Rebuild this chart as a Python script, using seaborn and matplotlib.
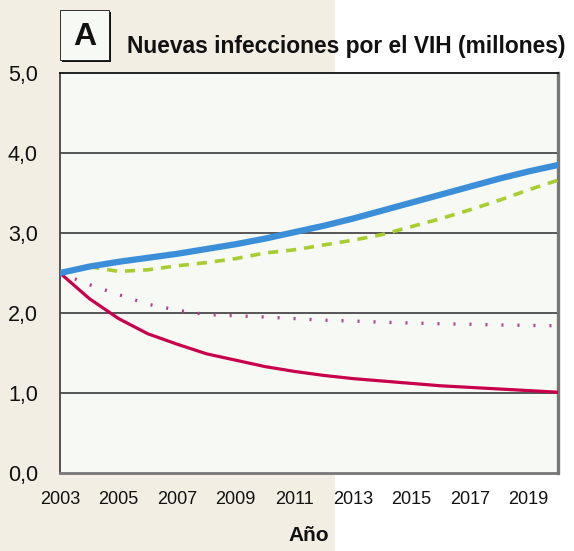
import numpy as np
import pandas as pd
import matplotlib
matplotlib.use("Agg")
import matplotlib.pyplot as plt
import seaborn as sns
from matplotlib.patches import Rectangle

# ---- data ----
years = list(range(2003, 2021))
blue_vals = [2.50, 2.58, 2.64, 2.69, 2.74, 2.80, 2.86, 2.93, 3.01, 3.09,
             3.18, 3.28, 3.38, 3.48, 3.58, 3.68, 3.77, 3.85]
green_years = list(range(2004, 2021))
green_vals = [2.58, 2.52, 2.54, 2.59, 2.63, 2.68, 2.75, 2.79, 2.85, 2.91,
              2.98, 3.08, 3.18, 3.29, 3.41, 3.54, 3.66]
dot_vals = [2.50, 2.355, 2.23, 2.11, 2.035, 1.98, 1.965, 1.95, 1.93, 1.91,
            1.90, 1.885, 1.875, 1.865, 1.86, 1.85, 1.845, 1.84]
red_vals = [2.50, 2.18, 1.93, 1.74, 1.61, 1.49, 1.41, 1.33, 1.27, 1.22,
            1.18, 1.15, 1.12, 1.09, 1.07, 1.05, 1.03, 1.01]
ytick_vals = [0, 1, 2, 3, 4, 5]
ytick_labels = ["0,0", "1,0", "2,0", "3,0", "4,0", "5,0"]
xtick_major = list(range(2003, 2020, 2))
title = "Nuevas infecciones por el VIH (millones)"
xlabel = "Año"
panel = "A"

sns.set_style("white")
plt.rcParams["font.family"] = ["Liberation Sans", "DejaVu Sans"]

W, H = 574, 551
fig = plt.figure(figsize=(W / 100, H / 100), dpi=100)
fig.patch.set_facecolor("white")
fig.patches.append(Rectangle((0, 0), 335 / W, 1, transform=fig.transFigure,
                             facecolor="#f2eee4", edgecolor="none", zorder=-10))

ax = fig.add_axes([60 / W, 1 - 473 / H, (558 - 60) / W, (473 - 73) / H])
ax.set_zorder(5)
ax.set_facecolor("#f7f9f4")

df_main = pd.DataFrame({"year": years, "blue": blue_vals, "dot": dot_vals, "red": red_vals})
df_green = pd.DataFrame({"year": green_years, "green": green_vals})

sns.lineplot(data=df_main, x="year", y="dot", ax=ax, color="#b0408a", lw=2.4,
             zorder=3)
ax.lines[-1].set_dashes((0.6, 4.2))
ax.lines[-1].set_dash_capstyle("butt")
sns.lineplot(data=df_main, x="year", y="red", ax=ax, color="#c8004b", lw=2.3,
             zorder=4)
ax.lines[-1].set_solid_joinstyle("round")
sns.lineplot(data=df_green, x="year", y="green", ax=ax, color="#a9cd2f", lw=2.6,
             zorder=5)
ax.lines[-1].set_dashes((2.8, 2.2))
sns.lineplot(data=df_main, x="year", y="blue", ax=ax, color="#3a8fd8", lw=4.5,
             zorder=6)
ax.lines[-1].set_solid_joinstyle("round")

ax.set_xlim(2003, 2020)
ax.set_ylim(0, 5)

for yv in ytick_vals[1:-1]:
    ax.axhline(yv, color="#2a2a2a", lw=1.1, zorder=2)

ax.set_yticks(ytick_vals)
ax.set_yticklabels(ytick_labels, fontsize=15.5)
ax.set_xticks(xtick_major)
ax.set_xticklabels([str(y) for y in xtick_major], fontsize=13)
ax.set_xticks(years, minor=True)
ax.tick_params(axis="y", length=0, pad=16, colors="#111111")
ax.tick_params(axis="x", which="both", direction="in", length=6, width=1,
               color="#333333", pad=13, labelcolor="#111111")

for side, col, lw in [("left", "#444444", 1.3), ("bottom", "#777777", 2.0),
                      ("right", "#777777", 2.4), ("top", "#111111", 1.3)]:
    ax.spines[side].set_visible(True)
    ax.spines[side].set_color(col)
    ax.spines[side].set_linewidth(lw)

ax.set_xlabel(xlabel, fontsize=15, fontweight="bold", labelpad=13, color="#111111")
ax.set_ylabel("")

# panel letter box
fig.patches.append(Rectangle((62 / W, 1 - 62 / H), 49 / W, 50 / H,
                             transform=fig.transFigure, facecolor="#111111",
                             edgecolor="none", zorder=1))
fig.patches.append(Rectangle((60 / W, 1 - 60 / H), 49 / W, 50 / H,
                             transform=fig.transFigure, facecolor="#f7f9f4",
                             edgecolor="#111111", lw=0.6, zorder=2))
fig.text(84.5 / W, 1 - 37 / H, panel, fontsize=23, fontweight="bold",
         ha="center", va="center", color="#111111", zorder=3)
fig.text(127 / W, 1 - 47 / H, title, fontsize=16.4, fontweight="bold",
         ha="left", va="center", color="#111111", zorder=3)

fig.savefig("out.png", dpi=100, facecolor=fig.get_facecolor())
